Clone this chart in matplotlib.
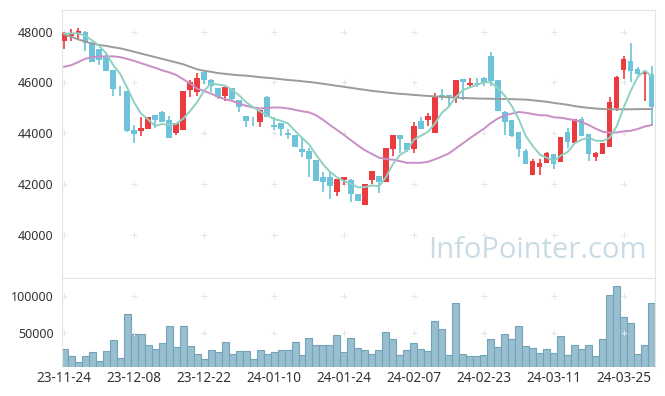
import numpy as np
import pandas as pd
import matplotlib
matplotlib.use('Agg')
import matplotlib.pyplot as plt

# trading days (KRX), holidays removed
holidays = ['2023-12-25', '2023-12-29', '2024-01-01', '2024-02-09', '2024-02-12', '2024-03-01']
days = pd.bdate_range('2023-11-24', '2024-03-29')
days = days[~days.isin(pd.to_datetime(holidays))]
date_labels = [d.strftime('%y-%m-%d') for d in days]

opens = [47650, 47840, 47960, 48000, 47570, 47300, 47040, 46490, 45840, 45660,
         44130, 44100, 44180, 44720, 44830, 44520, 44020, 44140, 45700, 45640,
         46410, 46100, 45780, 45480, 45780, 45310, 44680, 44490, 44460, 45420,
         44330, 44410, 44010, 43930, 43380, 43300, 42940, 42270, 42270, 41690,
         42160, 42150, 41600, 41190, 42160, 42320, 42100, 43390, 43930, 43610,
         43390, 44500, 44520, 44020, 45500, 45500, 45440, 46140, 45920, 45980,
         46190, 47050, 46100, 44830, 44520, 44040, 43300, 42360, 42690, 42840,
         43190, 42880, 44040, 43630, 44560, 43970, 43080, 43190, 43470, 45010,
         46500, 46850, 46530, 46340, 46350]
highs = [48000, 48090, 48130, 48030, 47580, 47310, 47150, 46500, 45860, 45670,
         44330, 44630, 44640, 44730, 44890, 44670, 44400, 45680, 46100, 46360,
         46420, 46140, 45790, 45820, 45800, 45320, 44690, 44630, 44930, 45470,
         44630, 44420, 44160, 43940, 43800, 43430, 42950, 42490, 42490, 42210,
         42280, 42200, 41610, 42010, 42530, 42330, 43430, 43940, 43940, 43620,
         44460, 44630, 44790, 45580, 45730, 45520, 46110, 46150, 46170, 46190,
         46200, 47190, 46110, 44880, 44530, 44050, 43380, 42980, 43000, 43250,
         43200, 43860, 44220, 44570, 44630, 43980, 43250, 43620, 45440, 46260,
         47040, 47540, 46600, 46440, 46650]
lows = [47300, 47650, 47670, 47250, 46800, 46680, 46450, 45480, 45480, 44040,
        43600, 43900, 44170, 44200, 44440, 43820, 43930, 44130, 45420, 45480,
        45930, 45610, 45350, 45280, 45330, 44850, 44260, 44290, 44260, 44640,
        44130, 43910, 43760, 43450, 43080, 42270, 42120, 41700, 41400, 41530,
        41950, 41280, 41330, 41180, 41990, 41640, 42090, 43110, 43210, 43250,
        43240, 44160, 44300, 44010, 45310, 45050, 45180, 45310, 45830, 45840,
        45860, 45870, 44880, 43930, 43840, 43080, 42780, 42350, 42360, 42830,
        42590, 42870, 43430, 43620, 43900, 42920, 42910, 43180, 43460, 44880,
        46140, 46010, 46300, 45270, 44300]
closes = [47940, 47940, 48030, 47550, 46820, 46890, 46470, 45750, 45810, 44090,
          43990, 44210, 44630, 44520, 44460, 43830, 44390, 45670, 46020, 46180,
          46100, 45860, 45430, 45810, 45340, 45050, 44500, 44470, 44920, 44650,
          44250, 44180, 43950, 43460, 43260, 42990, 42130, 42080, 41940, 42190,
          42270, 41610, 41340, 42000, 42520, 42100, 43420, 43930, 43790, 43340,
          44290, 44170, 44690, 45440, 45470, 45480, 46100, 46010, 45990, 45960,
          45990, 46070, 44890, 44460, 43910, 43380, 42790, 42910, 42840, 43240,
          42780, 43850, 43650, 44560, 43910, 43170, 43240, 43610, 45220, 46200,
          46910, 46470, 46340, 46420, 45050]
volumes = [28550, 19170, 11130, 19170, 24530, 12470, 25870, 40620, 16490, 75470,
           48660, 48660, 33920, 28550, 36600, 59380, 31230, 59380, 32570, 21850,
           15150, 27210, 24530, 37940, 21850, 25870, 25870, 15150, 27210, 21850,
           24530, 27210, 27210, 37940, 20510, 43300, 33920, 33920, 33920, 47320,
           24530, 43300, 29890, 27210, 21850, 27210, 51340, 41960, 20510, 27210,
           36600, 28550, 25870, 66090, 55360, 20510, 90220, 21850, 19170, 19170,
           20510, 41960, 31230, 48660, 41960, 59380, 32570, 29890, 23190, 28550,
           23190, 45980, 20510, 33920, 28550, 33920, 19170, 41960, 100940, 113400,
           71450, 63410, 21850, 33920, 90220]

# moving averages before enough history is on screen
ma5_head = [47920, 47930, 47940, 47840]
ma20_head = [46620, 46680, 46800, 46930, 47000, 47020, 47030, 47030, 47000, 46930,
             46850, 46760, 46670, 46580, 46480, 46400, 46300, 46130, 45960]
# long moving average (grey)
ma_long = [47890, 47800, 47700, 47610, 47530, 47480, 47440, 47390, 47346, 47280,
           47210, 47140, 47070, 47000, 46930, 46860, 46790, 46720, 46620, 46520,
           46460, 46420, 46370, 46340, 46310, 46285, 46270, 46240, 46210, 46185,
           46160, 46130, 46100, 46075, 46050, 46020, 45990, 45950, 45910, 45870,
           45830, 45790, 45750, 45710, 45670, 45640, 45610, 45580, 45555, 45535,
           45510, 45490, 45470, 45450, 45435, 45420, 45405, 45390, 45380, 45370,
           45365, 45360, 45355, 45350, 45345, 45335, 45325, 45300, 45270, 45240,
           45195, 45160, 45120, 45070, 45030, 45000, 44975, 44955, 44945, 44945,
           44945, 44945, 44950, 44955, 44955]

df = pd.DataFrame({'open': opens, 'high': highs, 'low': lows, 'close': closes,
                   'volume': volumes}, index=days)
x = np.arange(len(df))


def moving_avg(win, head):
    ma = df['close'].rolling(win).mean().to_numpy()
    ma[:len(head)] = head
    return ma


ma5 = moving_avg(5, ma5_head)
ma20 = moving_avg(20, ma20_head)

up_color = '#ec3b3f'
down_color = '#6cc3da'
grid_c = '#e4e4e4'
plt.rcParams['font.family'] = ['Noto Sans', 'DejaVu Sans']

fig = plt.figure(figsize=(6.65, 3.96), dpi=100)
W, H = 665, 396
ax1 = fig.add_axes([62 / W, (H - 278) / H, 593 / W, 268 / H])
ax2 = fig.add_axes([62 / W, (H - 367) / H, 593 / W, 89 / H], sharex=ax1)

# candles
up = df['close'] >= df['open']
colors = np.where(up, up_color, down_color)
body_lo = np.minimum(df['open'], df['close'])
body_h = np.maximum(np.abs(df['close'] - df['open']), 25)
ax1.vlines(x, df['low'], df['high'], colors=colors, lw=1.2, zorder=3)
ax1.bar(x, body_h, 0.74, bottom=body_lo, color=colors, zorder=4)

ax1.plot(x, ma_long, color='#9b9b9b', lw=1.4, zorder=5)
ax1.plot(x, ma20, color='#c98ec6', lw=1.4, zorder=5)
ax1.plot(x, ma5, color='#8fd0c3', lw=1.4, zorder=5)

ax1.set_xlim(-0.3, 84.45)
ax1.set_ylim(38303, 48854)
ax1.set_yticks([40000, 42000, 44000, 46000, 48000])

# volume
ax2.bar(x, df['volume'], 1.0, color='#97bfd0', edgecolor='#74a3b9', lw=0.8)
ax2.set_ylim(4800, 124100)
ax2.set_yticks([50000, 100000])

tick_pos = x[::10]
ax2.set_xticks(tick_pos)
ax2.set_xticklabels([date_labels[i] for i in tick_pos])
plt.setp(ax1.get_xticklabels(), visible=False)

for ax, yt in ((ax1, ax1.get_yticks()), (ax2, ax2.get_yticks())):
    for s in ax.spines.values():
        s.set_color(grid_c)
    ax.tick_params(length=0, labelsize=9, colors='#333333', pad=6)
    gx, gy = np.meshgrid(tick_pos, yt)
    ax.plot(gx.ravel(), gy.ravel(), '+', color='#e6e6e6', ms=4, mew=0.7, zorder=1)
ax1.spines['bottom'].set_visible(False)
ax2.spines['bottom'].set_visible(False)
ax2.tick_params(axis='x', pad=3, labelsize=9.8)

ax1.text(0.802, 0.075, 'InfoPointer.com', transform=ax1.transAxes, ha='center',
         va='baseline', fontsize=21, color='#c9dbe5', family='Open Sans', zorder=0)

fig.savefig('out.png', dpi=100)
